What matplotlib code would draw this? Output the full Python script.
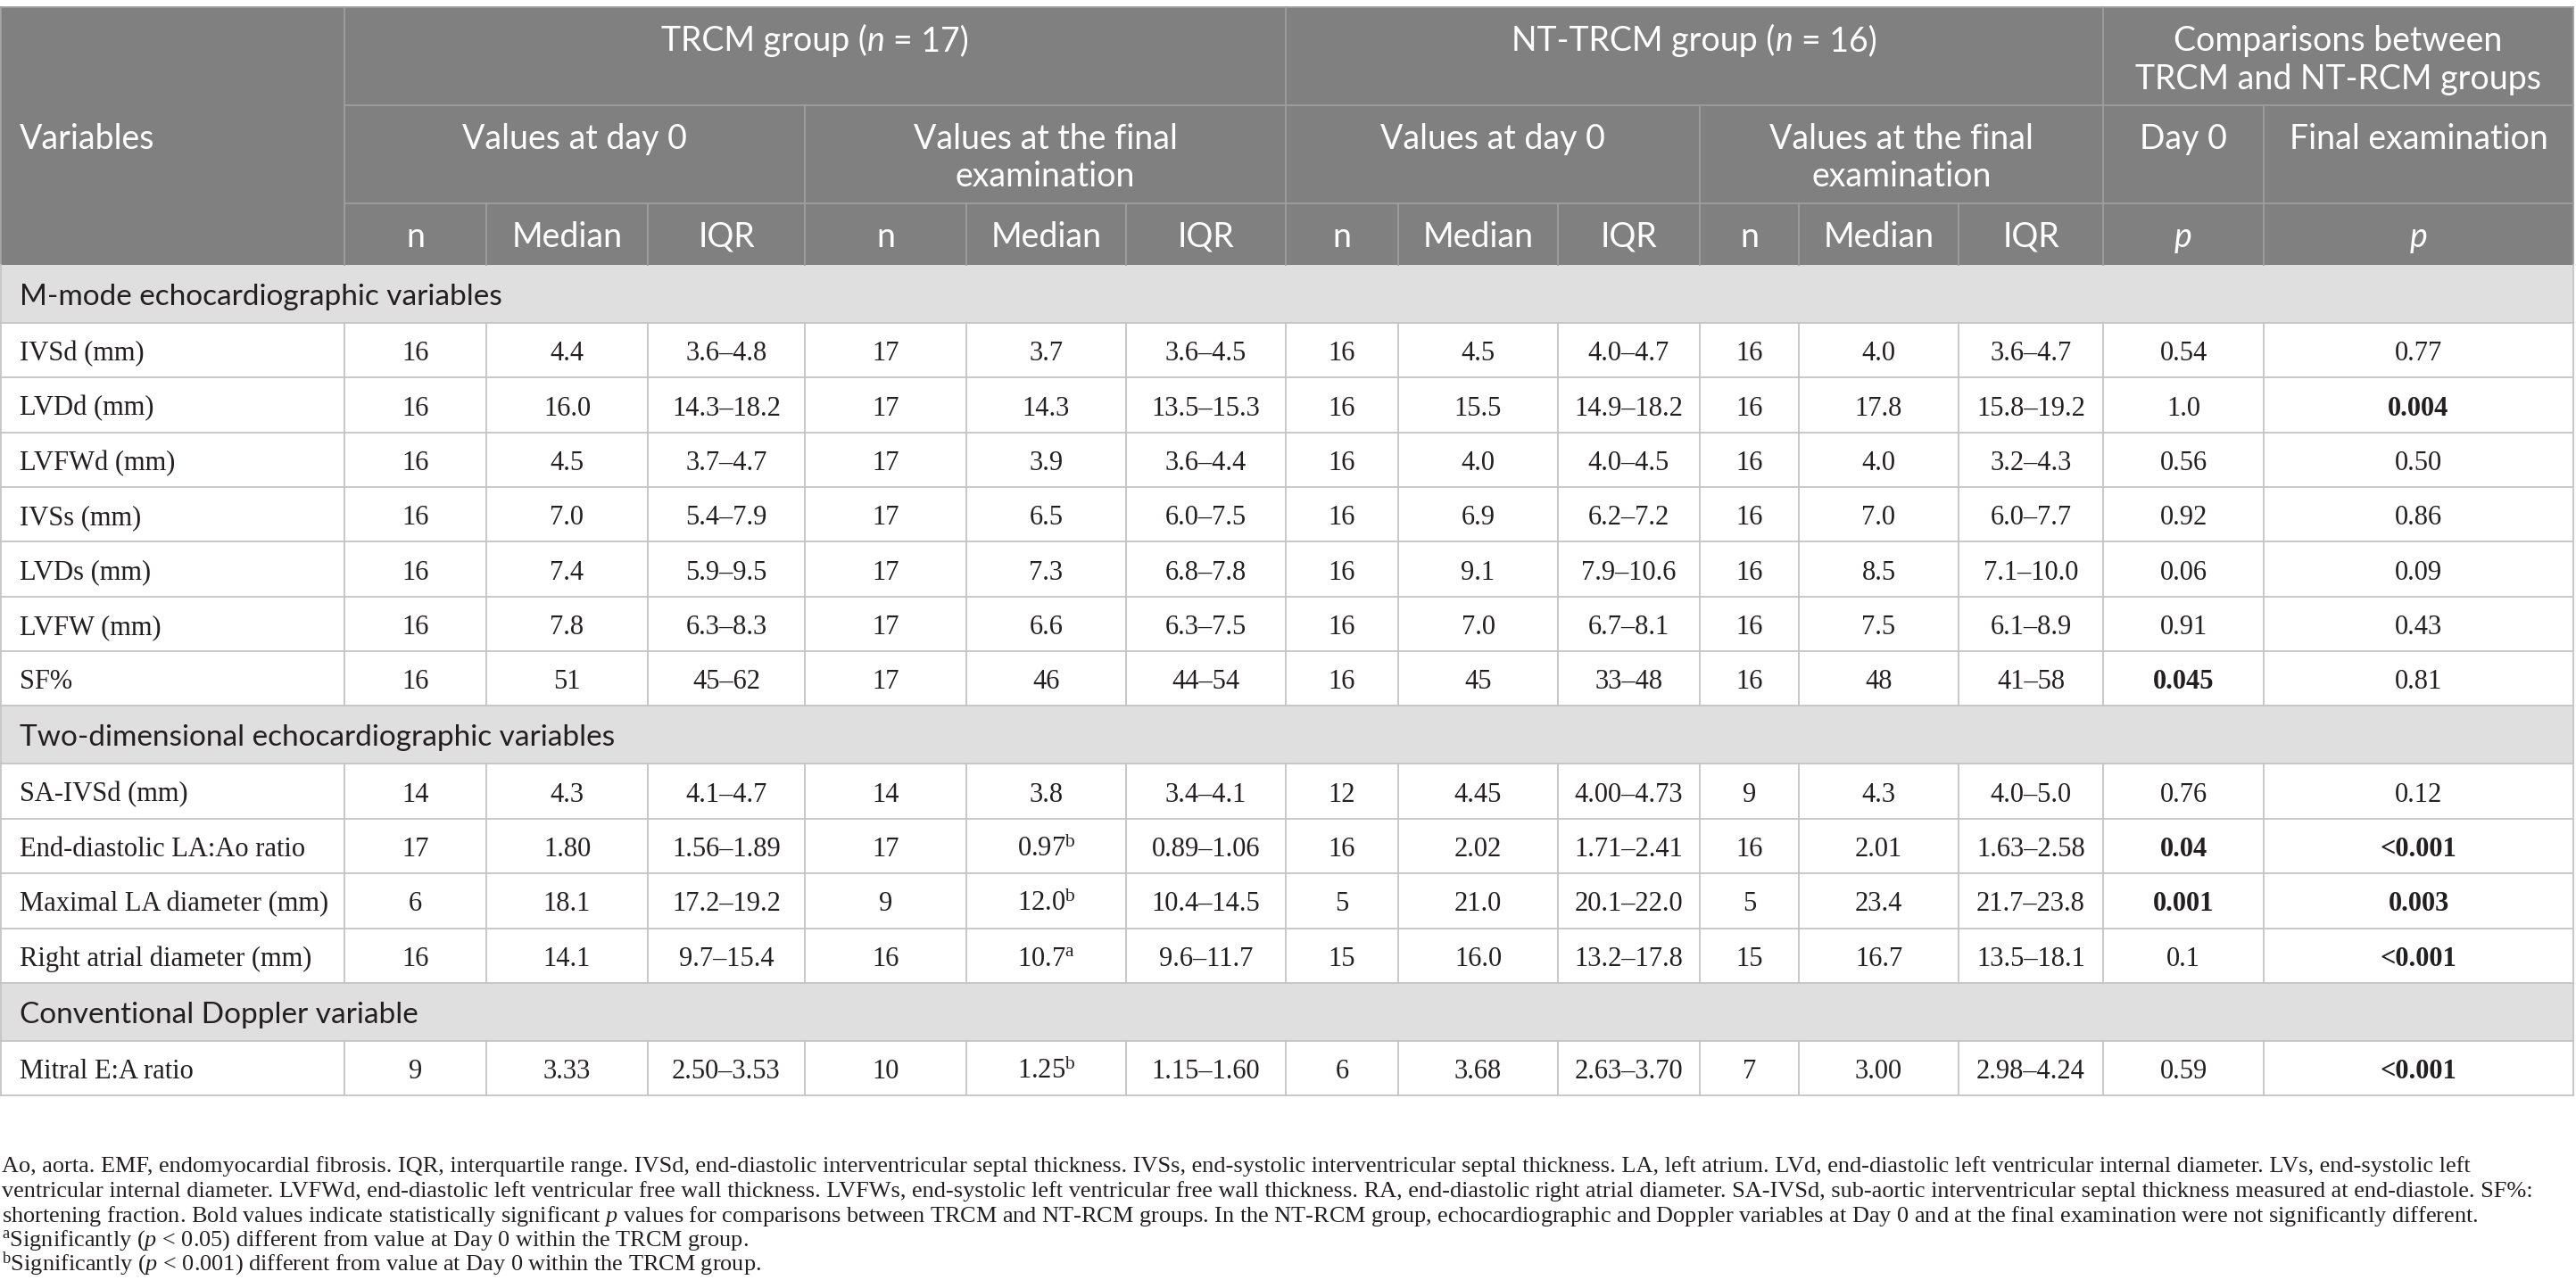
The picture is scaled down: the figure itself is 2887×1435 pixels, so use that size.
import matplotlib
matplotlib.use("Agg")
import matplotlib.pyplot as plt
from matplotlib.patches import Rectangle

plt.rcParams['mathtext.fontset'] = 'custom'
plt.rcParams['mathtext.rm'] = 'Liberation Serif'
plt.rcParams['mathtext.it'] = 'Liberation Serif:italic'
plt.rcParams['mathtext.bf'] = 'Liberation Serif:bold'

# ---- table data ----
sections = ["M-mode echocardiographic variables",
            "Two-dimensional echocardiographic variables",
            "Conventional Doppler variable"]
section_sizes = [7, 4, 1]

variables = ["IVSd (mm)", "LVDd (mm)", "LVFWd (mm)", "IVSs (mm)", "LVDs (mm)", "LVFW (mm)", "SF%",
             "SA-IVSd (mm)", "End-diastolic LA:Ao ratio", "Maximal LA diameter (mm)",
             "Right atrial diameter (mm)", "Mitral E:A ratio"]

trcm_d0_n = ["16", "16", "16", "16", "16", "16", "16", "14", "17", "6", "16", "9"]
trcm_d0_median = ["4.4", "16.0", "4.5", "7.0", "7.4", "7.8", "51", "4.3", "1.80", "18.1", "14.1", "3.33"]
trcm_d0_iqr = ["3.6–4.8", "14.3–18.2", "3.7–4.7", "5.4–7.9", "5.9–9.5", "6.3–8.3", "45–62",
               "4.1–4.7", "1.56–1.89", "17.2–19.2", "9.7–15.4", "2.50–3.53"]

trcm_fin_n = ["17", "17", "17", "17", "17", "17", "17", "14", "17", "9", "16", "10"]
trcm_fin_median = ["3.7", "14.3", "3.9", "6.5", "7.3", "6.6", "46", "3.8", "0.97", "12.0", "10.7", "1.25"]
trcm_fin_mark = ["", "", "", "", "", "", "", "", "b", "b", "a", "b"]
trcm_fin_iqr = ["3.6–4.5", "13.5–15.3", "3.6–4.4", "6.0–7.5", "6.8–7.8", "6.3–7.5", "44–54",
                "3.4–4.1", "0.89–1.06", "10.4–14.5", "9.6–11.7", "1.15–1.60"]

nt_d0_n = ["16", "16", "16", "16", "16", "16", "16", "12", "16", "5", "15", "6"]
nt_d0_median = ["4.5", "15.5", "4.0", "6.9", "9.1", "7.0", "45", "4.45", "2.02", "21.0", "16.0", "3.68"]
nt_d0_iqr = ["4.0–4.7", "14.9–18.2", "4.0–4.5", "6.2–7.2", "7.9–10.6", "6.7–8.1", "33–48",
             "4.00–4.73", "1.71–2.41", "20.1–22.0", "13.2–17.8", "2.63–3.70"]

nt_fin_n = ["16", "16", "16", "16", "16", "16", "16", "9", "16", "5", "15", "7"]
nt_fin_median = ["4.0", "17.8", "4.0", "7.0", "8.5", "7.5", "48", "4.3", "2.01", "23.4", "16.7", "3.00"]
nt_fin_iqr = ["3.6–4.7", "15.8–19.2", "3.2–4.3", "6.0–7.7", "7.1–10.0", "6.1–8.9", "41–58",
              "4.0–5.0", "1.63–2.58", "21.7–23.8", "13.5–18.1", "2.98–4.24"]

p_day0 = ["0.54", "1.0", "0.56", "0.92", "0.06", "0.91", "0.045", "0.76", "0.04", "0.001", "0.1", "0.59"]
p_day0_bold = [False, False, False, False, False, False, True, False, True, True, False, False]
p_final = ["0.77", "0.004", "0.50", "0.86", "0.09", "0.43", "0.81", "0.12", "<0.001", "0.003", "<0.001", "<0.001"]
p_final_bold = [False, True, False, False, False, False, False, False, True, True, True, True]

footnotes = [
    "Ao, aorta. EMF, endomyocardial fibrosis. IQR, interquartile range. IVSd, end-diastolic interventricular septal thickness. IVSs, end-systolic interventricular septal thickness. LA, left atrium. LVd, end-diastolic left ventricular internal diameter. LVs, end-systolic left",
    "ventricular internal diameter. LVFWd, end-diastolic left ventricular free wall thickness. LVFWs, end-systolic left ventricular free wall thickness. RA, end-diastolic right atrial diameter. SA-IVSd, sub-aortic interventricular septal thickness measured at end-diastole. SF%:",
    "shortening fraction. Bold values indicate statistically significant $p$ values for comparisons between TRCM and NT-RCM groups. In the NT-RCM group, echocardiographic and Doppler variables at Day 0 and at the final examination were not significantly different.",
    "${}^{\\mathrm{a}}$Significantly ($p$ < 0.05) different from value at Day 0 within the TRCM group.",
    "${}^{\\mathrm{b}}$Significantly ($p$ < 0.001) different from value at Day 0 within the TRCM group.",
]

# ---- layout ----
W, H = 2887, 1435
col_x = [1, 386, 545, 726, 902, 1083, 1262, 1441, 1567, 1746, 1905, 2016, 2195, 2357, 2537, 2884]
head_y = [8, 118, 228, 297]
sec_h, row_h = 65, 61.35

HEAD_BG = "#7f807f"
HEAD_LINE = "#9d9e9d"
SEC_BG = "#e0dfe0"
GRID = "#c4c4c4"
INK = "#231f20"
SANS = "Lato"
SERIF = "Liberation Serif"

fig = plt.figure(figsize=(W / 100, H / 100), dpi=100)
ax = fig.add_axes([0, 0, 1, 1])
ax.set_xlim(0, W)
ax.set_ylim(H, 0)
ax.axis("off")
renderer = fig.canvas.get_renderer()


def text_w(s, **kw):
    t = ax.text(0, 0, s, **kw)
    w = t.get_window_extent(renderer).width
    t.remove()
    return w


def draw_runs(xc, y, runs, **kw):
    """Centered line made of (text, italic) runs."""
    sp = text_w("x x", **kw) - text_w("xx", **kw)
    parts = []
    for s, it in runs:
        style = "italic" if it else "normal"
        lead = len(s) - len(s.lstrip())
        trail = len(s) - len(s.rstrip())
        w = text_w(s.strip(), fontstyle=style, **kw)
        parts.append((s.strip(), style, lead * sp, w, trail * sp))
    total = sum(a + b + c for _, _, a, b, c in parts)
    x = xc - total / 2
    for s, style, a, w, c in parts:
        x += a
        ax.text(x, y, s, ha="left", va="baseline", fontstyle=style, **kw)
        x += w + c


# header background
ax.add_patch(Rectangle((col_x[0], head_y[0]), col_x[-1] - col_x[0], head_y[3] - head_y[0],
                       facecolor=HEAD_BG, edgecolor="none", zorder=0))

hk = dict(color="white", fontsize=27, family=SANS)
ax.text(22, 167, "Variables", ha="left", va="baseline", **hk)
draw_runs((col_x[1] + col_x[7]) / 2, 57, [("TRCM group (", False), ("n", True), (" = 17)", False)], **hk)
draw_runs((col_x[7] + col_x[13]) / 2, 57, [("NT-TRCM group (", False), ("n", True), (" = 16)", False)], **hk)
cx = (col_x[13] + col_x[15]) / 2
ax.text(cx, 57, "Comparisons between", ha="center", va="baseline", **hk)
ax.text(cx, 100, "TRCM and NT-RCM groups", ha="center", va="baseline", **hk)

group_spans = [(1, 4), (4, 7), (7, 10), (10, 13)]
group_titles = ["Values at day 0", "Values at the final\nexamination",
                "Values at day 0", "Values at the final\nexamination"]
for (a, b), title in zip(group_spans, group_titles):
    for k, line in enumerate(title.split("\n")):
        ax.text((col_x[a] + col_x[b]) / 2, 167 + 42 * k, line, ha="center", va="baseline", **hk)
ax.text((col_x[13] + col_x[14]) / 2, 167, "Day 0", ha="center", va="baseline", **hk)
ax.text((col_x[14] + col_x[15]) / 2, 167, "Final examination", ha="center", va="baseline", **hk)

sub_labels = ["n", "Median", "IQR"] * 4
for i, lab in enumerate(sub_labels):
    ax.text((col_x[i + 1] + col_x[i + 2]) / 2, 277, lab, ha="center", va="baseline", **hk)
for i in (13, 14):
    ax.text((col_x[i] + col_x[i + 1]) / 2, 277, "p", ha="center", va="baseline",
            fontstyle="italic", **hk)

# header grid
lk = dict(color=HEAD_LINE, lw=1.3, zorder=1)
ax.plot([col_x[1], col_x[-1]], [head_y[1]] * 2, **lk)
ax.plot([col_x[1], col_x[-1]], [head_y[2]] * 2, **lk)
for i in (1, 7, 13):
    ax.plot([col_x[i]] * 2, [head_y[0], head_y[3]], **lk)
for i in (4, 10, 14):
    ax.plot([col_x[i]] * 2, [head_y[1], head_y[3]], **lk)
for i in (2, 3, 5, 6, 8, 9, 11, 12):
    ax.plot([col_x[i]] * 2, [head_y[2], head_y[3]], **lk)
ax.plot([col_x[0]] * 2, [head_y[0], head_y[3]], **lk)
ax.plot([col_x[-1]] * 2, [head_y[0], head_y[3]], **lk)
ax.plot([col_x[0], col_x[-1]], [head_y[0]] * 2, **lk)

# ---- body ----
columns = [trcm_d0_n, trcm_d0_median, trcm_d0_iqr,
           trcm_fin_n, trcm_fin_median, trcm_fin_iqr,
           nt_d0_n, nt_d0_median, nt_d0_iqr,
           nt_fin_n, nt_fin_median, nt_fin_iqr]
bk = dict(color=INK, fontsize=22, family=SERIF)
gk = dict(color=GRID, lw=1.3, zorder=1)

y = head_y[3]
r = 0
for sec, size in zip(sections, section_sizes):
    ax.add_patch(Rectangle((col_x[0], y), col_x[-1] - col_x[0], sec_h,
                           facecolor=SEC_BG, edgecolor="none", zorder=0))
    ax.text(22, y + 45, sec, ha="left", va="baseline", color=INK, fontsize=24, family=SANS)
    ax.plot([col_x[0], col_x[-1]], [y + sec_h] * 2, **gk)
    ax.plot([col_x[0]] * 2, [y, y + sec_h], **gk)
    ax.plot([col_x[-1]] * 2, [y, y + sec_h], **gk)
    y += sec_h
    for _ in range(size):
        base = y + row_h / 2 + 11.5
        ax.text(22, base, variables[r], ha="left", va="baseline", **bk)
        for c, col in enumerate(columns):
            s = col[r]
            if col is trcm_fin_median and trcm_fin_mark[r]:
                s = s + "$^{\\mathrm{" + trcm_fin_mark[r] + "}}$"
            ax.text((col_x[c + 1] + col_x[c + 2]) / 2, base, s, ha="center", va="baseline", **bk)
        ax.text((col_x[13] + col_x[14]) / 2, base, p_day0[r], ha="center", va="baseline",
                fontweight="bold" if p_day0_bold[r] else "normal", **bk)
        ax.text((col_x[14] + col_x[15]) / 2, base, p_final[r], ha="center", va="baseline",
                fontweight="bold" if p_final_bold[r] else "normal", **bk)
        for xv in col_x:
            ax.plot([xv] * 2, [y, y + row_h], **gk)
        ax.plot([col_x[0], col_x[-1]], [y + row_h] * 2, **gk)
        y += row_h
        r += 1

# ---- footnotes (size fitted so the widest line spans the table width) ----
w20 = max(text_w(line, color=INK, fontsize=20, family=SERIF) for line in footnotes)
fk = dict(color=INK, fontsize=20 * 2835 / w20, family=SERIF)
foot_y = [1314, 1342, 1370, 1397, 1424]
for fy, line in zip(foot_y, footnotes):
    ax.text(2, fy, line, ha="left", va="baseline", **fk)

fig.savefig("out.png", dpi=100)
